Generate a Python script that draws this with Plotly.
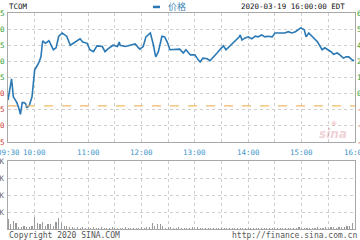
import pandas as pd
import plotly.graph_objects as go

DAY = "2020-03-19 "
SYMBOL = "TCOM"
STAMP = "2020-03-19 16:00:00 EDT"
SERIES_NAME = "价格"
PREV_CLOSE = 23.31

price_times = ["09:30","09:33","09:34","09:36","09:38","09:40","09:42","09:44","09:46","09:48",
               "09:50","09:51","09:54","09:57","09:58","09:59","10:00","10:03","10:05","10:07",
               "10:08","10:09","10:12","10:14","10:16","10:21","10:24","10:27","10:31","10:33",
               "10:36","10:40","10:43","10:46","10:51","10:54","10:59","11:02","11:06","11:10",
               "11:16","11:19","11:22","11:28","11:33","11:35","11:36","11:42","11:47","11:53",
               "11:58","12:02","12:05","12:10","12:13","12:16","12:19","12:21","12:23","12:26",
               "12:29","12:32","12:35","12:39","12:43","12:47","12:50","12:55","13:00","13:04",
               "13:06","13:09","13:14","13:17","13:20","13:25","13:28","13:32","13:35","13:40",
               "13:43","13:46","13:50","13:51","13:53","13:56","14:00","14:04","14:08","14:11",
               "14:15","14:19","14:22","14:27","14:30","14:33","14:38","14:41","14:45","14:49",
               "14:53","14:56","14:59","15:03","15:05","15:08","15:12","15:15","15:18","15:21",
               "15:23","15:26","15:30","15:33","15:36","15:40","15:43","15:47","15:50","15:53",
               "15:57","15:59"]
price_values = [23.40,23.71,23.73,23.45,23.40,23.36,23.28,23.18,23.36,23.36,
                23.34,23.28,23.32,23.45,23.59,23.76,23.87,23.94,23.99,24.07,
                24.25,24.32,24.28,24.30,24.32,24.18,24.21,24.39,24.44,24.42,
                24.39,24.25,24.28,24.30,24.35,24.30,24.28,24.18,24.15,24.24,
                24.23,24.15,24.19,24.25,24.23,24.30,24.25,24.23,24.25,24.27,
                24.19,24.23,24.38,24.44,24.28,24.07,24.15,24.30,24.39,24.38,
                24.30,24.18,24.18,24.19,24.19,24.13,24.18,24.10,24.10,24.02,
                23.99,24.05,24.04,24.01,24.05,24.13,24.18,24.24,24.18,24.25,
                24.28,24.33,24.38,24.41,24.33,24.36,24.38,24.35,24.39,24.38,
                24.41,24.38,24.39,24.38,24.44,24.44,24.44,24.44,24.46,24.44,
                24.46,24.49,24.52,24.49,24.38,24.44,24.38,24.33,24.30,24.23,
                24.18,24.21,24.18,24.15,24.11,24.13,24.10,24.05,24.07,24.07,
                24.02,24.01]

vol_times = ["09:30","09:33","09:36","09:39","09:42","09:45","09:48","09:51","09:54","09:57",
             "10:00","10:03","10:06","10:09","10:12","10:15","10:18","10:21","10:24","10:27",
             "10:30","10:33","10:36","10:39","10:42","10:45","10:48","10:51","10:54","10:57",
             "11:00","11:03","11:06","11:09","11:12","11:15","11:18","11:21","11:24","11:27",
             "11:30","11:33","11:36","11:39","11:42","11:45","11:48","11:51","11:54","11:57",
             "12:00","12:03","12:06","12:09","12:12","12:15","12:18","12:21","12:24","12:27",
             "12:30","12:33","12:36","12:39","12:42","12:45","12:48","12:51","12:54","12:57",
             "13:00","13:03","13:06","13:09","13:12","13:15","13:18","13:21","13:24","13:27",
             "13:30","13:33","13:36","13:39","13:42","13:45","13:48","13:51","13:54","13:57",
             "14:00","14:03","14:06","14:09","14:12","14:15","14:18","14:21","14:24","14:27",
             "14:30","14:33","14:36","14:39","14:42","14:45","14:48","14:51","14:54","14:57",
             "15:00","15:03","15:06","15:09","15:12","15:15","15:18","15:21","15:24","15:27",
             "15:30","15:33","15:36","15:39","15:42","15:45","15:48","15:51","15:54","15:57"]
vol_values_k = [60,30,50,35,14,12,15,10,12,18,
                70,35,30,40,20,30,28,15,40,62,
                35,15,18,10,12,8,10,7,9,8,
                10,7,9,6,8,10,6,8,7,9,
                6,8,6,7,9,6,7,8,6,7,
                9,8,10,12,35,15,30,28,15,8,
                9,14,7,8,13,6,7,6,8,12,
                7,12,6,8,5,6,7,5,6,5,
                7,5,6,5,7,6,5,6,5,7,
                6,5,6,5,7,6,5,6,8,5,
                6,5,7,6,5,6,8,6,7,9,
                6,8,7,6,8,7,9,7,8,10,
                8,9,12,8,10,9,14,20,15,35]

grid_times = ["09:30","10:00","10:30","11:00","11:30","12:00","12:30","13:00","13:30",
              "14:00","14:30","15:00","15:30","16:00"]
label_times = ["09:30","10:00","11:00","12:00","13:00","14:00","15:00","16:00"]

price_ticks = [24.75,24.50,24.25,24.00,23.75,23.50,23.25,23.00,22.75]
left_tick_colors = ["#2e9a2e"]*5 + ["#cc3333"]*4
vol_ticks_k = [400,300,200,100]

FONT = "DejaVu Sans Mono, Noto Sans CJK SC"
LINE_BLUE = "#2a78b4"
BORDER = "#a8a8a8"
GRID = "#cfcfcf"

to_dt = lambda ts: pd.to_datetime([DAY + t for t in ts])
px_t = to_dt(price_times)
vx_t = to_dt(vol_times)
gx_t = to_dt(grid_times)
lx_t = to_dt(label_times)

fig = go.Figure()
fig.add_trace(go.Scatter(x=px_t, y=price_values, mode="lines",
                         line=dict(color=LINE_BLUE, width=1.6),
                         xaxis="x", yaxis="y", hoverinfo="skip", showlegend=False))
fig.add_trace(go.Bar(x=vx_t, y=vol_values_k, marker=dict(color="#9a9a9a", line=dict(width=0)),
                     width=75000, xaxis="x2", yaxis="y2", hoverinfo="skip", showlegend=False))

xr = [gx_t[0], gx_t[-1]]
common_x = dict(range=xr, type="date", tickvals=gx_t, showgrid=True, gridcolor=GRID,
                griddash="dot", gridwidth=1, showline=True, mirror=True, linecolor=BORDER,
                linewidth=1, zeroline=False, fixedrange=True, showticklabels=False,
                automargin=False)
fig.update_layout(
    width=360, height=240,
    margin=dict(l=8, r=5, t=13, b=11),
    paper_bgcolor="white", plot_bgcolor="white",
    font=dict(family=FONT, size=7.5, color="#222"),
    bargap=0,
    xaxis=dict(**common_x, domain=[0, 1], anchor="y"),
    xaxis2=dict(**common_x, domain=[0, 1], anchor="y2", matches="x"),
    yaxis=dict(domain=[0.4028, 1.0], range=[price_ticks[-1], price_ticks[0]],
               tickvals=price_ticks, showticklabels=False, showgrid=True, gridcolor=GRID,
               griddash="dot", showline=True, mirror=True, linecolor=BORDER, zeroline=False,
               fixedrange=True, automargin=False),
    yaxis2=dict(domain=[0, 0.3148], range=[0, vol_ticks_k[0]], tickvals=vol_ticks_k,
                showticklabels=False, showgrid=True, gridcolor=GRID, griddash="dot",
                showline=True, mirror=True, linecolor=BORDER, zeroline=False, fixedrange=True,
                automargin=False),
    showlegend=False,
)

# previous close dashed line
fig.add_shape(type="line", xref="x domain", yref="y", x0=0, x1=1, y0=PREV_CLOSE, y1=PREV_CLOSE,
              line=dict(color="#eebb66", width=1.3, dash="dash"))

ann = []
# time labels below the price panel
for t, lab in zip(lx_t, label_times):
    ann.append(dict(xref="x", yref="paper", x=t, y=0.356, text=lab, xanchor="center",
                    yanchor="middle", showarrow=False,
                    font=dict(family=FONT, size=7.5, color="#3d95c8")))
# left price labels (clipped by the page edge, as in the reference)
for v, c in zip(price_ticks, left_tick_colors):
    ann.append(dict(xref="paper", yref="y", x=0, y=v, text=f"{v:.2f}", xanchor="right",
                    yanchor="middle", showarrow=False, xshift=-1,
                    font=dict(family=FONT, size=7.5, color=c)))
# right percentage labels
for v in price_ticks:
    pct = (v - PREV_CLOSE) / PREV_CLOSE * 100
    c = "#2e9a2e" if pct >= 0 else "#cc3333"
    ann.append(dict(xref="paper", yref="y", x=1, y=v, text=f"{pct:.2f}%", xanchor="left",
                    yanchor="middle", showarrow=False, xshift=0,
                    font=dict(family=FONT, size=7.5, color=c)))
# volume labels
for v in vol_ticks_k:
    ann.append(dict(xref="paper", yref="y2", x=0, y=v, text=f"{v}K", xanchor="right",
                    yanchor="middle", showarrow=False, xshift=-1,
                    font=dict(family=FONT, size=7.5, color="#666")))

ann += [
    dict(xref="paper", yref="paper", x=-0.003, y=1.028, text=SYMBOL, xanchor="left",
         yanchor="middle", showarrow=False, font=dict(family=FONT, size=7.5, color="#111")),
    dict(xref="paper", yref="paper", x=0.4553, y=1.028, text=SERIES_NAME, xanchor="left",
         yanchor="middle", showarrow=False, font=dict(family=FONT, size=9, color="#3a7fb0")),
    dict(xref="paper", yref="paper", x=0.977, y=1.028, text=STAMP, xanchor="right",
         yanchor="middle", showarrow=False, font=dict(family=FONT, size=7.5, color="#111")),
    dict(xref="paper", yref="paper", x=-0.003, y=-0.028, text="Copyright 2020 SINA.COM",
         xanchor="left", yanchor="middle", showarrow=False,
         font=dict(family=FONT, size=8, color="#555")),
    dict(xref="paper", yref="paper", x=1.0115, y=-0.028, text="http://finance.sina.com.cn",
         xanchor="right", yanchor="middle", showarrow=False,
         font=dict(family=FONT, size=8, color="#555")),
    dict(xref="paper", yref="paper", x=0.9366, y=0.44, text="<i><b>sina</b></i>",
         xanchor="center", yanchor="middle", showarrow=False,
         font=dict(family="DejaVu Sans", size=12, color="rgba(210,120,130,0.35)")),
    dict(xref="paper", yref="paper", x=0.94, y=0.49, text="◉",
         xanchor="center", yanchor="middle", showarrow=False,
         font=dict(family="DejaVu Sans", size=7, color="rgba(220,120,130,0.35)")),
]
fig.update_layout(annotations=ann)

# legend glyph
fig.add_shape(type="line", xref="paper", yref="paper", x0=0.4179, x1=0.438, y0=1.028, y1=1.028,
              line=dict(color=LINE_BLUE, width=2.5))

fig.write_html("out.html", config=dict(displayModeBar=False, staticPlot=True))
